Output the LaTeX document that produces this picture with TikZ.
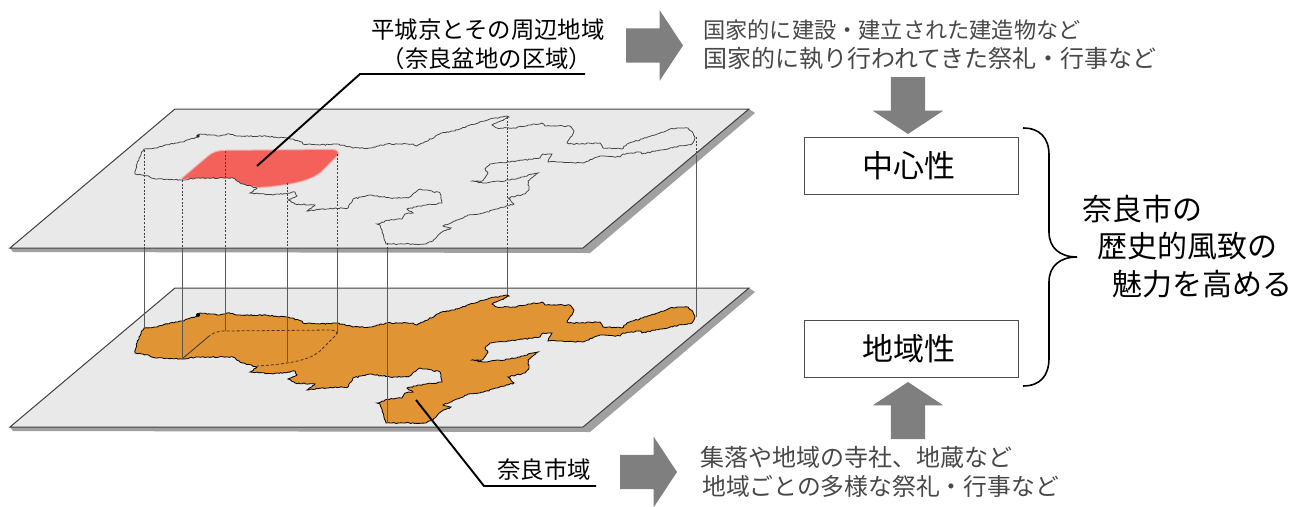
\documentclass[tikz,border=0pt]{standalone}
\usepackage{fontspec}
\setmainfont{Noto Sans CJK JP}
\usetikzlibrary{shapes.arrows,decorations.pathmorphing}
\definecolor{planegray}{HTML}{E9E9E9}
\definecolor{planeshadow}{HTML}{A0A0A0}
\definecolor{arrowgray}{HTML}{7F7F7F}
\definecolor{cityorange}{HTML}{E09434}
\definecolor{zonered}{HTML}{F4605A}
\definecolor{notegray}{HTML}{484848}
\tikzset{
  plane/.style={draw=black!75, line width=1pt, fill=planegray},
  shadow/.style={fill=planeshadow},
  jagged/.style={decorate, decoration={random steps, segment length=1.8pt, amplitude=0.6pt}},
  bigarrow/.style={single arrow, fill=arrowgray, text height=34pt, text depth=0pt, minimum width=70pt, minimum height=57pt, single arrow head extend=18pt, single arrow tip angle=113, single arrow head indent=0pt, inner sep=0pt, outer sep=0pt, anchor=tail},
  labeltext/.style={font=\fontsize{23.4}{28}\selectfont, inner sep=0pt},
  notetext/.style={font=\fontsize{24}{28}\selectfont, text=notegray, anchor=west, inner sep=0pt},
  boxtext/.style={draw=black!70, line width=1pt, minimum width=214pt, minimum height=57pt, inner sep=0pt},
  boxlabel/.style={font=\fontsize{31}{36}\selectfont, inner sep=0pt},
  goaltext/.style={font=\fontsize{30}{36}\selectfont, anchor=west, inner sep=0pt},
  leader/.style={line width=1.9pt, black}
}
\def\cityoutline{(144,328) -- (157,327) -- (170,323) -- (182,321) -- (197,316) -- (200,313) -- (210,314) -- (220,315) -- (227,313) -- (240,315) -- (263,315) -- (287,317) -- (302,321) -- (303,323) -- (320,324) -- (337,323) -- (353,327) -- (370,327) -- (387,323) -- (413,323) -- (417,325) -- (442,312) -- (453,310) -- (490,298) -- (507,295) -- (509,296) -- (492,304) -- (497,307) -- (513,307) -- (542,302) -- (545,305) -- (570,305) -- (574,310) -- (572,315) -- (567,322) -- (573,323) -- (600,322) -- (603,327) -- (622,328) -- (627,323) -- (660,312) -- (670,308) -- (688,307) -- (693,312) -- (695,317) -- (692,323) -- (660,329) -- (642,333) -- (640,331) -- (623,333) -- (620,336) -- (600,335) -- (583,342) -- (557,341) -- (548,341) -- (552,333) -- (543,333) -- (540,337) -- (510,341) -- (490,343) -- (485,348) -- (488,352) -- (482,360) -- (472,360) -- (483,362) -- (510,359) -- (518,357) -- (538,352) -- (528,360) -- (529,368) -- (525,373) -- (508,377) -- (514,383) -- (497,388) -- (480,393) -- (468,394) -- (460,398) -- (443,405) -- (451,407) -- (442,411) -- (433,420) -- (425,423) -- (403,423) -- (386,423) -- (383,413) -- (380,404) -- (377,403) -- (390,399) -- (402,398) -- (405,393) -- (413,392) -- (407,388) -- (420,385) -- (442,382) -- (440,372) -- (420,368) -- (408,377) -- (390,377) -- (370,374) -- (353,378) -- (348,387) -- (320,388) -- (307,390) -- (315,384) -- (295,383) -- (288,379) -- (297,375) -- (295,371) -- (273,374) -- (250,372) -- (257,367) -- (242,363) -- (233,357) -- (228,357) -- (197,357) -- (182,359) -- (157,358) -- (143,354) -- (135,353) -- (137,343) -- (139,337) -- cycle}
\begin{document}
\begin{tikzpicture}[x=1pt,y=-1pt]
  \useasboundingbox (0,0) rectangle (1301,506);
  % lower sheet
  \fill [shadow] (13,431) -- (590,432) -- (755,292) -- (749,288) -- (583,427) -- (10,427) -- cycle;
  \draw [plane] (175,288) -- (749,288) -- (583,427) -- (10,427) -- cycle;
  % upper sheet
  \fill [shadow] (13,252) -- (590,253) -- (755,113) -- (749,109) -- (583,248) -- (10,248) -- cycle;
  \draw [plane] (175,109) -- (749,109) -- (583,248) -- (10,248) -- cycle;
  % maps
  \pgfmathsetseed{11}
  \draw [jagged, draw=black, line width=0.8pt, fill=cityorange] \cityoutline;
  \fill (198,315) circle (2pt);
  \draw [dashed, black!65!cityorange, line width=0.8pt, dash pattern=on 3pt off 2pt]
    (208,337) .. controls (214,332) and (218,331) .. (226,331) -- (331,330)
    .. controls (336,330) and (338,333) .. (336,335) -- (320,351)
    .. controls (310,360) and (290,364) .. (257,366);
  \draw [black!80, line width=0.8pt] (182,359) -- (208,337);
  \fill [zonered] (182,179) -- (208,157) .. controls (214,152) and (218,151) .. (226,151) -- (331,150)
    .. controls (336,150) and (339,152) .. (337,155) -- (320,172)
    .. controls (310,180) and (290,185) .. (257,187) -- (242,184) -- (233,178) -- (228,178) -- (197,178) -- cycle;
  \foreach \w/\o in {3/0.2,1.5/0.4} {
    \draw [zonered, opacity=\o, line width=\w pt, line join=round] (182,179) -- (208,157) .. controls (214,152) and (218,151) .. (226,151) -- (331,150)
      .. controls (336,150) and (339,152) .. (337,155) -- (320,172)
      .. controls (310,180) and (290,185) .. (257,187);
  }
  \pgfmathsetseed{11}
  \draw [jagged, draw=black!75, line width=0.75pt, yshift=179pt] \cityoutline;
  \fill [black!85, yshift=179pt] (198,315) circle (1.8pt);
  % drop lines
  \foreach \x/\ytop/\yedge/\ybot in {144/150/249/328,182/180/249/359,225/151/249/331,287/183/249/362,337/154/249/334,387/243/249/423,507/117/249/295,696/137/155/317} {
    \draw [black!75, line width=1pt, dash pattern=on 2pt off 1.6pt] (\x,\ytop) -- (\x,\yedge);
    \draw [black!65, line width=1pt] (\x,\yedge) -- (\x,\ybot);
  }
  % labels on the left
  \node [labeltext] (heijo) at (488,30) {平城京とその周辺地域};
  \node [labeltext] (bonchi) at (487,59) {（奈良盆地の区域）};
  \node [labeltext] (narashi) at (544,470) {奈良市域};
  \coordinate (heijoend) at (585,74);
  \coordinate (heijoknee) at (360,74);
  \coordinate (zonept) at (257,166);
  \coordinate (narashiend) at (596,486);
  \coordinate (narashiknee) at (484,486);
  \coordinate (citypt) at (416,400);
  \draw [leader] (heijoend) -- (heijoknee) -- (zonept);
  \draw [leader] (narashiend) -- (narashiknee) -- (citypt);
  % arrows
  \node [bigarrow] (toparrow) at (626,45.5) {};
  \node [bigarrow] (botarrow) at (620,472) {};
  \node [bigarrow, rotate=-90] (downarrow) at (908,77) {};
  \node [bigarrow, rotate=90] (uparrow) at (908,439) {};
  % notes
  \node [notetext, font=\fontsize{22.2}{28}\selectfont] (notea) at (703,30) {国家的に建設・建立された建造物など};
  \node [notetext] (noteb) at (703,59) {国家的に執り行われてきた祭礼・行事など};
  \node [notetext] (notec) at (700,457) {集落や地域の寺社、地蔵など};
  \node [notetext, font=\fontsize{23.8}{28}\selectfont] (noted) at (702,486) {地域ごとの多様な祭礼・行事など};
  % right side
  \node [boxtext] (centerbox) at (911,166) {};
  \node [boxlabel] (center) at (909,166) {中心性};
  \node [boxtext] (localbox) at (911,349) {};
  \node [boxlabel] (local) at (909,349) {地域性};
  \draw [black, line width=1.6pt] (1023,128) .. controls (1040,128) and (1049,138) .. (1049,155) -- (1049,232)
    .. controls (1049,248) and (1060,257) .. (1077,257) .. controls (1060,257) and (1049,266) .. (1049,282)
    -- (1049,358) .. controls (1049,376) and (1040,386) .. (1023,386);
  \node [goaltext] (goala) at (1082,209) {奈良市の};
  \node [goaltext] (goalb) at (1097,246) {歴史的風致の};
  \node [goaltext] (goalc) at (1112,284) {魅力を高める};
\end{tikzpicture}
\end{document}
